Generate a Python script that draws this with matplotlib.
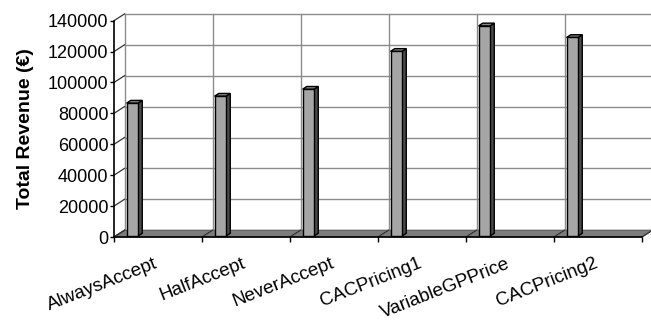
import matplotlib
matplotlib.use("Agg")
import matplotlib.pyplot as plt
from matplotlib.patches import Polygon
from matplotlib.transforms import offset_copy

plt.rcParams['font.family'] = ['Liberation Sans', 'DejaVu Sans']

# Data
strategies = ["AlwaysAccept", "HalfAccept", "NeverAccept",
              "CACPricing1", "VariableGPPrice", "CACPricing2"]
revenue = [86000, 90500, 95000, 119500, 136000, 128500]
y_ticks = [0, 20000, 40000, 60000, 80000, 100000, 120000, 140000]
y_label = "Total Revenue (€)"

# Oblique 3-D look: offset of the back plane in data units
YMAX = 140000
DX = 10.5 / 88.0            # category units per full depth
DY = 6.8 * YMAX / 216.3     # value units per full depth
BAR_D0, BAR_D1 = 0.15, 0.55  # front/back depth of the columns
BAR_X0, BAR_W = 11.0 / 88.0, 11.5 / 88.0

GRID = "#8c8c8c"
FLOOR = "#7c7c7c"
FRONT = "#a6a6a6"
SIDE = "#4a4a4a"
TOP = "#888888"

fig = plt.figure(figsize=(6.51, 3.23), dpi=100)
ax = fig.add_axes([114 / 651, 86 / 323, 528 / 651, 216.3 / 323])
n = len(strategies)
ax.set_xlim(0, n)
ax.set_ylim(0, YMAX)


def proj(x, v, d):
    return (x + d * DX, v + d * DY)


# Back wall gridlines
for v in y_ticks:
    ax.plot([DX, n + DX], [v + DY, v + DY], color=GRID, lw=1.0,
            clip_on=False, zorder=1)
for i in range(n + 1):
    ax.plot([i + DX, i + DX], [DY, YMAX + DY], color=GRID, lw=1.0,
            clip_on=False, zorder=1)

# Floor
floor = Polygon([proj(0, 0, 0), proj(n, 0, 0), proj(n, 0, 1), proj(0, 0, 1)],
                closed=True, facecolor=FLOOR, edgecolor="#555555", lw=0.6,
                clip_on=False, zorder=2)
ax.add_patch(floor)

# Depth lines on the floor and on the left wall
for i in range(n + 1):
    ax.plot([i, i + DX], [0, DY], color="#333333", lw=0.9,
            clip_on=False, zorder=3)
for v in y_ticks:
    ax.plot([0, DX], [v, v + DY], color="#333333", lw=0.9,
            clip_on=False, zorder=3)

# Columns
for i, v in enumerate(revenue):
    x0 = i + BAR_X0
    x1 = x0 + BAR_W
    front = [proj(x0, 0, BAR_D0), proj(x1, 0, BAR_D0),
             proj(x1, v, BAR_D0), proj(x0, v, BAR_D0)]
    side = [proj(x1, 0, BAR_D0), proj(x1, 0, BAR_D1),
            proj(x1, v, BAR_D1), proj(x1, v, BAR_D0)]
    top = [proj(x0, v, BAR_D0), proj(x1, v, BAR_D0),
           proj(x1, v, BAR_D1), proj(x0, v, BAR_D1)]
    for pts, col in ((side, SIDE), (top, TOP), (front, FRONT)):
        ax.add_patch(Polygon(pts, closed=True, facecolor=col,
                             edgecolor="black", lw=1.0, joinstyle="miter",
                             clip_on=False, zorder=4))

# Front axes
for s in ("top", "right"):
    ax.spines[s].set_visible(False)
for s in ("left", "bottom"):
    ax.spines[s].set_color("black")
    ax.spines[s].set_linewidth(1.2)
    ax.spines[s].set_zorder(5)
ax.patch.set_alpha(0)

ax.set_yticks(y_ticks)
ax.set_yticklabels([str(t) for t in y_ticks], fontsize=13)
ax.tick_params(axis="y", direction="out", length=3, width=1, pad=1)
ax.set_xticks(range(n + 1))
ax.set_xticklabels([])
ax.tick_params(axis="x", direction="out", length=3.5, width=1)

label_tr = offset_copy(ax.transData, fig=fig, x=-4, y=-18, units="dots")
for i, name in enumerate(strategies):
    ax.text(i + 0.5, 0, name, transform=label_tr, rotation=21.5,
            rotation_mode="anchor", ha="right", va="top", fontsize=13.6)

fig.text(25.5 / 651, 1 - 128.5 / 323, y_label, rotation=90,
         ha="center", va="center", fontsize=14, fontweight="bold")

fig.savefig("out.png", dpi=100, facecolor="white")
